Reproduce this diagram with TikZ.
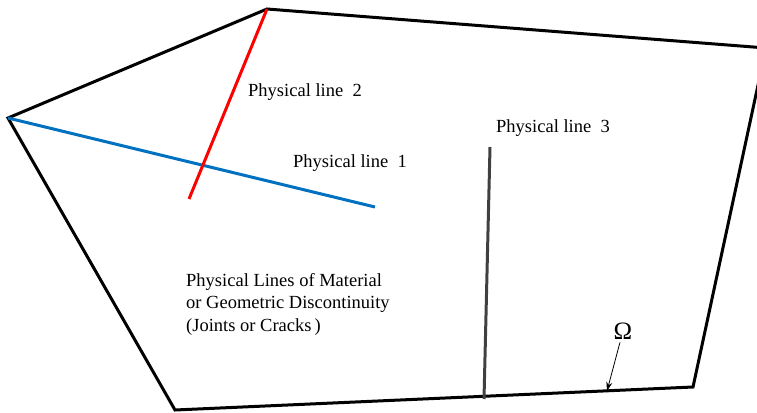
\documentclass[tikz,border=0pt]{standalone}
\usepackage{fontspec}
\setmainfont{Liberation Serif}
\usetikzlibrary{arrows,arrows.meta}
\definecolor{lineblue}{RGB}{0,112,192}
\definecolor{linegray}{RGB}{64,64,64}
\tikzstyle{boundary} = [line width=3pt, black, line join=miter]
\tikzstyle{phys} = [line width=3pt]
\tikzstyle{lbl} = [anchor=west, inner sep=0pt, font=\fontsize{18.5}{22.5}\selectfont]

\begin{document}
\begin{tikzpicture}[x=1pt,y=-1pt]
\clip (0,0) rectangle (757,412);
% domain corners
\coordinate (w) at (8,118);
\coordinate (n) at (267,9);
\coordinate (ne) at (766,48);
\coordinate (se) at (693,387);
\coordinate (sw) at (175,410);
\draw[boundary] (w) -- (n) -- (ne) -- (se) -- (sw) -- cycle;

% physical lines
\coordinate (b2) at (375,207);
\coordinate (r2) at (189,199);
\coordinate (g1) at (490,147);
\coordinate (g2) at (484,399);
\draw[phys, lineblue] (w) -- (b2);
\draw[phys, red] (n) -- (r2);
\draw[phys, linegray] (g1) -- (g2);

% labels
\node[lbl] (l2) at (248,92) {Physical line\ \ 2};
\node[lbl] (l1) at (293,163) {Physical line\ \ 1};
\node[lbl] (l3) at (496,128) {Physical line\ \ 3};
\node[lbl, align=left, anchor=north west] (desc) at (186,273)
    {Physical Lines of Material\\or Geometric Discontinuity\\(Joints or Cracks\,)};
\node[font=\fontsize{25}{27}\selectfont, inner sep=1pt] (om) at (623,331) {Ω};
\coordinate (ompt) at (607,391);
\draw[-{Stealth[length=9pt,width=6pt]}, line width=0.8pt, shorten <=2pt] (om) -- (ompt);
\end{tikzpicture}
\end{document}
